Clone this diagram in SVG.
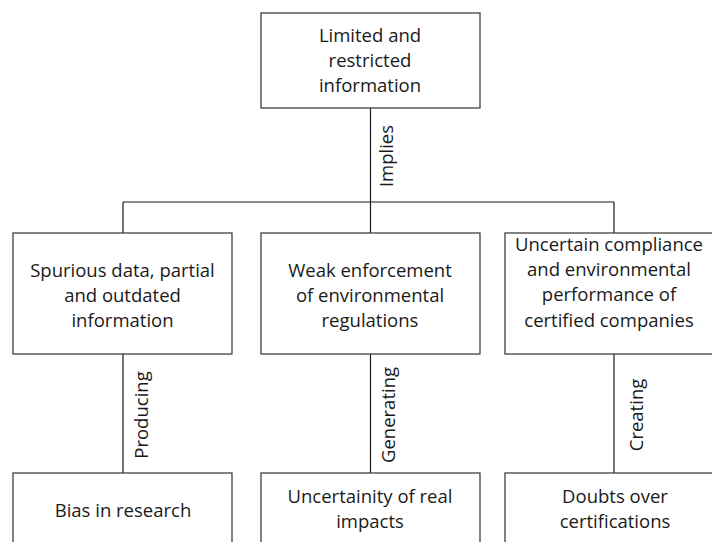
<svg xmlns="http://www.w3.org/2000/svg" width="712" height="542" viewBox="0 0 712 542">
<style>
.box{fill:#ffffff;stroke:#404040;stroke-width:1.3}
.t{font-family:"Open Sans","Liberation Sans",sans-serif;font-size:18.5px;fill:#1a1a1a;text-anchor:middle}
.c{stroke:#1a1a1a;stroke-width:1.2;fill:none}
</style>
<rect width="712" height="542" fill="#ffffff"/>
<g id="connectors">
<path class="c" d="M370.5 108V233M123 202H614M123 202V233M614 202V233"/>
<path class="c" d="M123 354V473M370.5 354V473M614 354V473"/>
<text class="t" transform="translate(393,156) rotate(-90)">Implies</text>
<text class="t" transform="translate(148,415) rotate(-90)">Producing</text>
<text class="t" transform="translate(395,415) rotate(-90)">Generating</text>
<text class="t" transform="translate(643,415) rotate(-90)">Creating</text>
</g>
<g id="n-top">
<rect class="box" x="261" y="13" width="219" height="95"/>
<text class="t" x="370" y="42">Limited and</text>
<text class="t" x="370" y="67">restricted</text>
<text class="t" x="370" y="92">information</text>
</g>
<g id="n-spurious">
<rect class="box" x="13" y="233" width="219" height="121"/>
<text class="t" x="122.5" y="277">Spurious data, partial</text>
<text class="t" x="122.5" y="302">and outdated</text>
<text class="t" x="122.5" y="327">information</text>
</g>
<g id="n-weak">
<rect class="box" x="261" y="233" width="219" height="121"/>
<text class="t" x="370" y="277">Weak enforcement</text>
<text class="t" x="370" y="302">of environmental</text>
<text class="t" x="370" y="327">regulations</text>
</g>
<g id="n-uncertain">
<rect class="box" x="505" y="233" width="219" height="121"/>
<text class="t" x="609" y="251">Uncertain compliance</text>
<text class="t" x="609" y="276">and environmental</text>
<text class="t" x="609" y="301">performance of</text>
<text class="t" x="609" y="327">certified companies</text>
</g>
<g id="n-bias">
<rect class="box" x="13" y="473" width="219" height="90"/>
<text class="t" x="123" y="517">Bias in research</text>
</g>
<g id="n-impacts">
<rect class="box" x="261" y="473" width="219" height="90"/>
<text class="t" x="370" y="503">Uncertainity of real</text>
<text class="t" x="370" y="528">impacts</text>
</g>
<g id="n-doubts">
<rect class="box" x="505" y="473" width="219" height="90"/>
<text class="t" x="615" y="503">Doubts over</text>
<text class="t" x="615" y="528">certifications</text>
</g>
</svg>
